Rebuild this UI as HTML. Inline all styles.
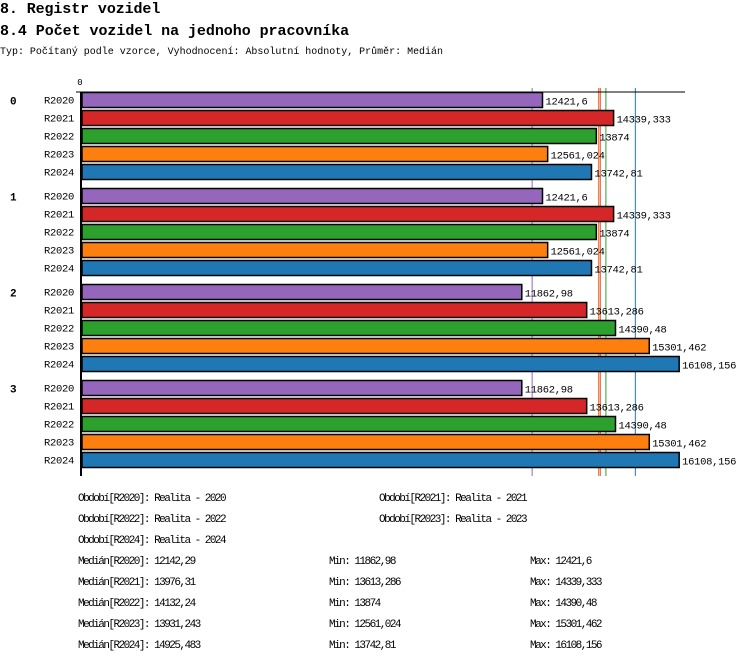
<!DOCTYPE html>
<html><head><meta charset="utf-8">
<style>
html,body{margin:0;padding:0;background:#fff;}
svg{display:block;font-family:"Liberation Mono",monospace;}
</style></head>
<body>
<svg id="chart" width="750" height="656" viewBox="0 0 750 656" xmlns="http://www.w3.org/2000/svg">
<text x="0" y="13" font-size="15" font-weight="bold" letter-spacing="-0.1">8. Registr vozidel</text>
<text x="0" y="35" font-size="15" font-weight="bold" letter-spacing="-0.05">8.4 Počet vozidel na jednoho pracovníka</text>
<text x="0" y="54" font-size="10.5" textLength="443" lengthAdjust="spacingAndGlyphs">Typ: Počítaný podle vzorce, Vyhodnocení: Absolutní hodnoty, Průměr: Medián</text>
<text x="80" y="85" font-size="9" text-anchor="middle">0</text>
<g id="plot"></g>
<g id="legend"></g>
</svg>
<script>
const groups = ["0","1","2","3"];
const periods = ["R2020","R2021","R2022","R2023","R2024"];
const colors = ["#9467bd","#d62728","#2ca02c","#ff7f0e","#1f77b4"];
const values0 = [12421.6,14339.333,13874,12561.024,13742.81];
const values1 = [12421.6,14339.333,13874,12561.024,13742.81];
const values2 = [11862.98,13613.286,14390.48,15301.462,16108.156];
const values3 = [11862.98,13613.286,14390.48,15301.462,16108.156];
const medians = [12142.29,13976.31,14132.24,13931.243,14925.483];
const mins = ["11862,98","13613,286","13874","12561,024","13742,81"];
const maxs = ["12421,6","14339,333","14390,48","15301,462","16108,156"];
const medianLabels = ["12142,29","13976,31","14132,24","13931,243","14925,483"];
const periodNames = ["Realita - 2020","Realita - 2021","Realita - 2022","Realita - 2023","Realita - 2024"];

const allValues=[values0,values1,values2,values3];
const NS="http://www.w3.org/2000/svg";
const x0=82, scale=460.5/12421.6;
const xs=v=>x0+v*scale;
const groupY=g=>92.5+g*96;
const rowY=(g,i)=>groupY(g)+i*18;
function mk(tag,attrs,parent){const e=document.createElementNS(NS,tag);for(const k in attrs)e.setAttribute(k,attrs[k]);parent.appendChild(e);return e;}
const plot=document.getElementById('plot');
const fmt=v=>String(v).replace('.',',');

medians.forEach((m,i)=>{
  const l=mk('line',{x1:xs(m),x2:xs(m),y1:88,y2:476,stroke:colors[i],'stroke-width':1},plot);
  
  
});
const tl=mk('line',{x1:76,x2:685,y1:92,y2:92,stroke:'#000','stroke-width':1},plot);



groups.forEach((g,gi)=>{
  const gl=mk('text',{x:10,y:groupY(gi)+12,'font-size':11,'font-weight':'bold'},plot);
  gl.textContent=g;
  
  
  periods.forEach((p,i)=>{
    const y=rowY(gi,i), v=allValues[gi][i];
    const lab=mk('text',{x:74,y:y+11,'font-size':10.5,'letter-spacing':-0.3,'text-anchor':'end'},plot);
    lab.textContent=p;
    
    
    const r=mk('rect',{x:x0,y:y,width:xs(v)-x0,height:15,fill:colors[i],stroke:'#000','stroke-width':1.5},plot);
    
    
    const vl=mk('text',{x:xs(v)+3,y:y+12,'font-size':10.5,'letter-spacing':-0.3},plot);
    vl.textContent=fmt(v);
    
    
  });
});
const ax=mk('line',{x1:81,x2:81,y1:92,y2:476,stroke:'#000','stroke-width':2},plot);



const leg=document.getElementById('legend');
function t(x,y,s,name){const e=mk('text',{x:x,y:y,'font-size':11,'letter-spacing':-1.53},leg);e.textContent=s;
  
  }
const lpos=[[78,501],[379,501],[78,522],[379,522],[78,543]];
periods.forEach((p,i)=>t(lpos[i][0],lpos[i][1],'Období['+p+']: '+periodNames[i],'legend-entry'));
periods.forEach((p,i)=>{
  const y=564+i*21;
  t(78,y,'Medián['+p+']: '+medianLabels[i],'median-stat');
  t(329,y,'Min: '+mins[i],'min-stat');
  t(530,y,'Max: '+maxs[i],'max-stat');
});
</script>
</body></html>
